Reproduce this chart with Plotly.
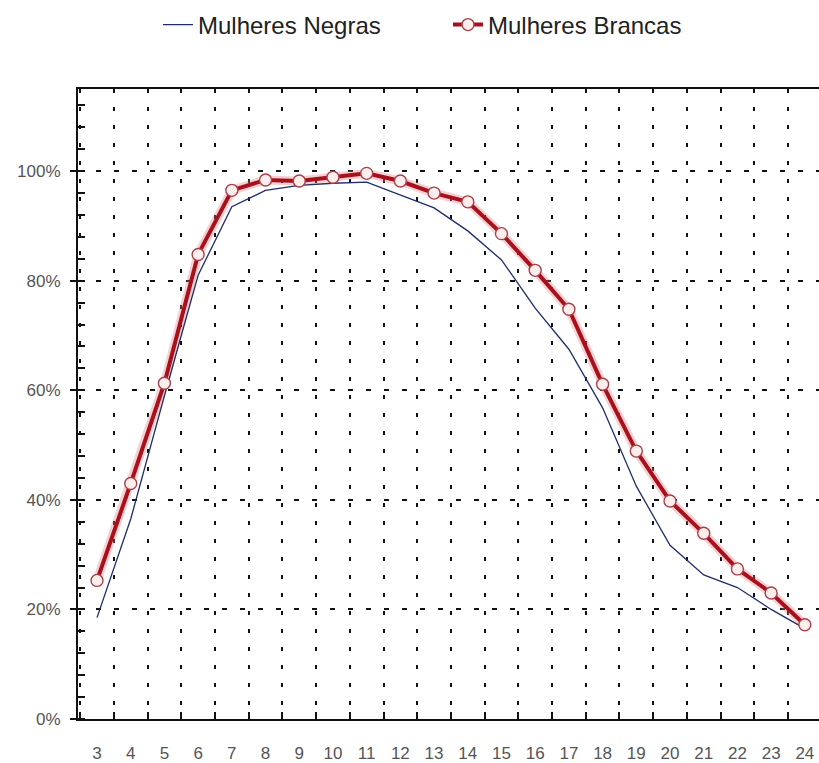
import plotly.graph_objects as go

# ---- data ----
idades = list(range(3, 25))
mulheres_negras = [18.5, 36.5, 59.0, 81.0, 93.5, 96.5, 97.4, 97.8, 98.0, 95.6, 93.3,
                   89.1, 83.8, 75.0, 67.5, 56.8, 42.5, 31.7, 26.3, 24.0, 20.0, 16.5]
mulheres_brancas = [25.3, 43.0, 61.3, 84.8, 96.5, 98.4, 98.2, 98.9, 99.6, 98.2, 96.0,
                    94.4, 88.6, 81.9, 74.8, 61.1, 48.9, 39.8, 33.9, 27.4, 23.0, 17.2]
y_ticks = [0, 20, 40, 60, 80, 100]

W, H = 819, 763
fig = go.Figure()

# soft glow under the white-women line
fig.add_trace(go.Scatter(
    x=idades, y=mulheres_brancas, mode="lines",
    line=dict(color="rgba(230,120,130,0.35)", width=9),
    hoverinfo="skip", showlegend=False, cliponaxis=False))

fig.add_trace(go.Scatter(
    x=idades, y=mulheres_negras, mode="lines", name="Mulheres Negras",
    line=dict(color="#1f2d6b", width=1.3), legend="legend", cliponaxis=False))

fig.add_trace(go.Scatter(
    x=idades, y=mulheres_brancas, mode="lines+markers", name="Mulheres Brancas",
    line=dict(color="#a8101c", width=4),
    marker=dict(symbol="circle", size=12, color="#fdeeee",
                line=dict(color="#a8404a", width=1.4)),
    legend="legend2", cliponaxis=False))

legend_font = dict(family="Liberation Sans, Arial, sans-serif", size=24, color="#222")

fig.update_layout(
    width=W, height=H,
    margin=dict(l=78, r=0, t=89, b=41),
    paper_bgcolor="white", plot_bgcolor="white",
    font=dict(family="Liberation Sans, Arial, sans-serif", size=17, color="#555"),
    legend=dict(xref="container", yref="container", x=158 / W, y=1 - 25 / H,
                xanchor="left", yanchor="middle", orientation="h",
                font=legend_font, bgcolor="rgba(0,0,0,0)", borderwidth=0,
                itemwidth=30),
    legend2=dict(xref="container", yref="container", x=448 / W, y=1 - 25 / H,
                 xanchor="left", yanchor="middle", orientation="h",
                 font=legend_font, bgcolor="rgba(0,0,0,0)", borderwidth=0,
                 itemwidth=30),
    xaxis=dict(
        range=[2.436, 24.42], tickmode="array", tickvals=idades,
        ticktext=[str(v) for v in idades],
        showgrid=False, zeroline=False,
        showline=True, linecolor="#111", linewidth=2, mirror=True,
        ticks="", ticklabelstandoff=18, ticklabeloverflow="allow",
        tickfont=dict(size=17, color="#555"),
        minor=dict(tick0=2.5, dtick=1, showgrid=True, gridcolor="#111",
                   gridwidth=2, griddash="4px,14px", ticks="inside",
                   ticklen=7, tickcolor="#111", tickwidth=2),
    ),
    yaxis=dict(
        range=[0, 115], tickmode="array", tickvals=y_ticks,
        ticktext=[f"{v}%" for v in y_ticks],
        showgrid=True, gridcolor="#111", gridwidth=2, griddash="5px,13px",
        zeroline=False,
        showline=True, linecolor="#111", linewidth=2,
        ticks="outside", ticklen=6, tickcolor="#111", tickwidth=2,
        ticklabelstandoff=6,
        tickfont=dict(size=17, color="#555"),
        minor=dict(tick0=0, dtick=4, ticks="inside", ticklen=7,
                   tickcolor="#111", tickwidth=2, showgrid=False),
    ),
)

# remove the default page margin so the 819x763 figure fills the window exactly
fig.write_html(
    "out.html",
    config={"displayModeBar": False},
    post_script="document.body.style.margin='0';document.body.style.overflow='hidden';",
)
